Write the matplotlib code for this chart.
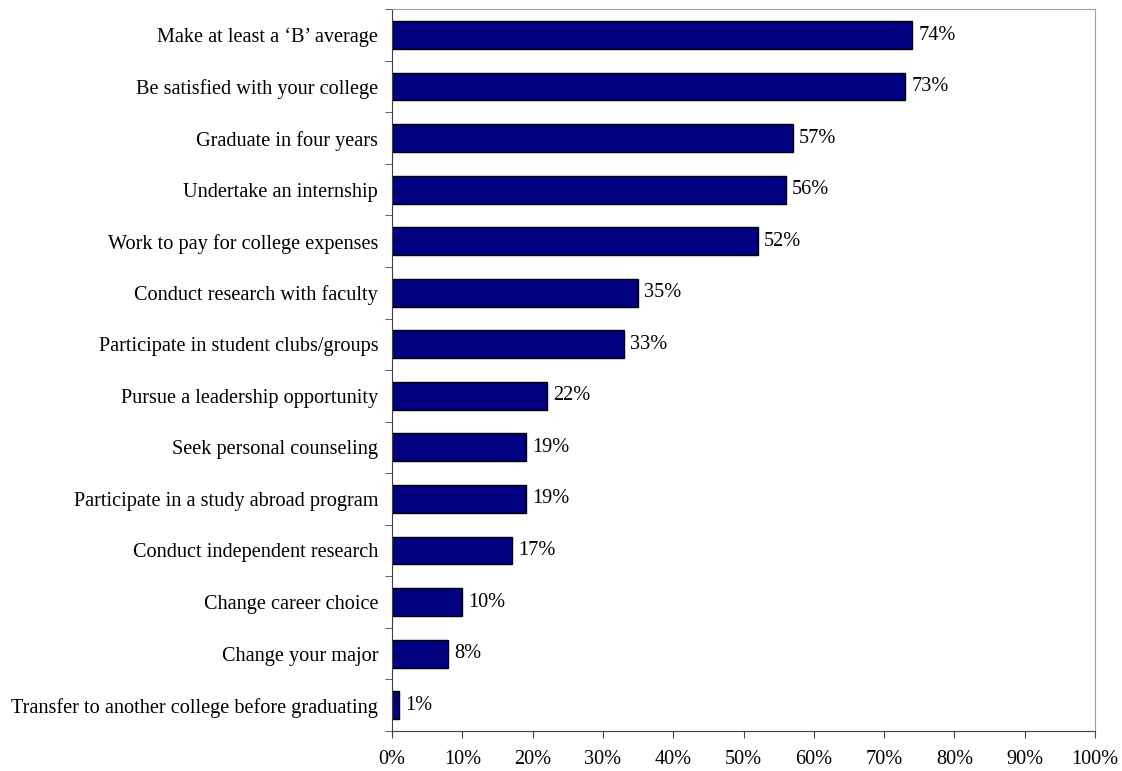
import matplotlib.pyplot as plt
import numpy as np

plt.rcParams['font.family'] = ['Liberation Serif', 'DejaVu Serif']

activities = [
    "Make at least a \u2018B\u2019 average",
    "Be satisfied with your college",
    "Graduate in four years",
    "Undertake an internship",
    "Work to pay for college expenses",
    "Conduct research with faculty",
    "Participate in student clubs/groups",
    "Pursue a leadership opportunity",
    "Seek personal counseling",
    "Participate in a study abroad program",
    "Conduct independent research",
    "Change career choice",
    "Change your major",
    "Transfer to another college before graduating",
]
percents = [74, 73, 57, 56, 52, 35, 33, 22, 19, 19, 17, 10, 8, 1]

fs = 14.6

fig = plt.figure(figsize=(11.22, 7.71), dpi=100)
ax = fig.add_axes([0.3494, 0.052, 0.6266, 0.936])

y = np.arange(len(activities))
ax.barh(y, percents, height=0.54, color='#000080', edgecolor='black', linewidth=1.0)

for yi, p in zip(y, percents):
    ax.text(p + 0.9, yi, f"{p}%", va='center', ha='left', fontsize=fs)

ax.set_xlim(0, 100)
ax.set_ylim(len(activities) - 0.5, -0.5)
ax.set_xticks(np.arange(0, 101, 10))
ax.set_xticklabels([f"{v}%" for v in range(0, 101, 10)], fontsize=fs)
ax.set_yticks(y)
ax.set_yticklabels(activities, fontsize=fs)
ax.tick_params(axis='y', which='major', length=0, pad=10)
ax.set_yticks(np.arange(-0.5, len(activities), 1), minor=True)
ax.tick_params(axis='y', which='minor', length=5, color='#404040', direction='out')
ax.tick_params(axis='x', length=5, color='#404040', direction='out', pad=9)

for side in ['left', 'bottom']:
    ax.spines[side].set_color('#404040')
for side in ['top', 'right']:
    ax.spines[side].set_color('#a0a0a0')

fig.savefig('out.png', dpi=100)
